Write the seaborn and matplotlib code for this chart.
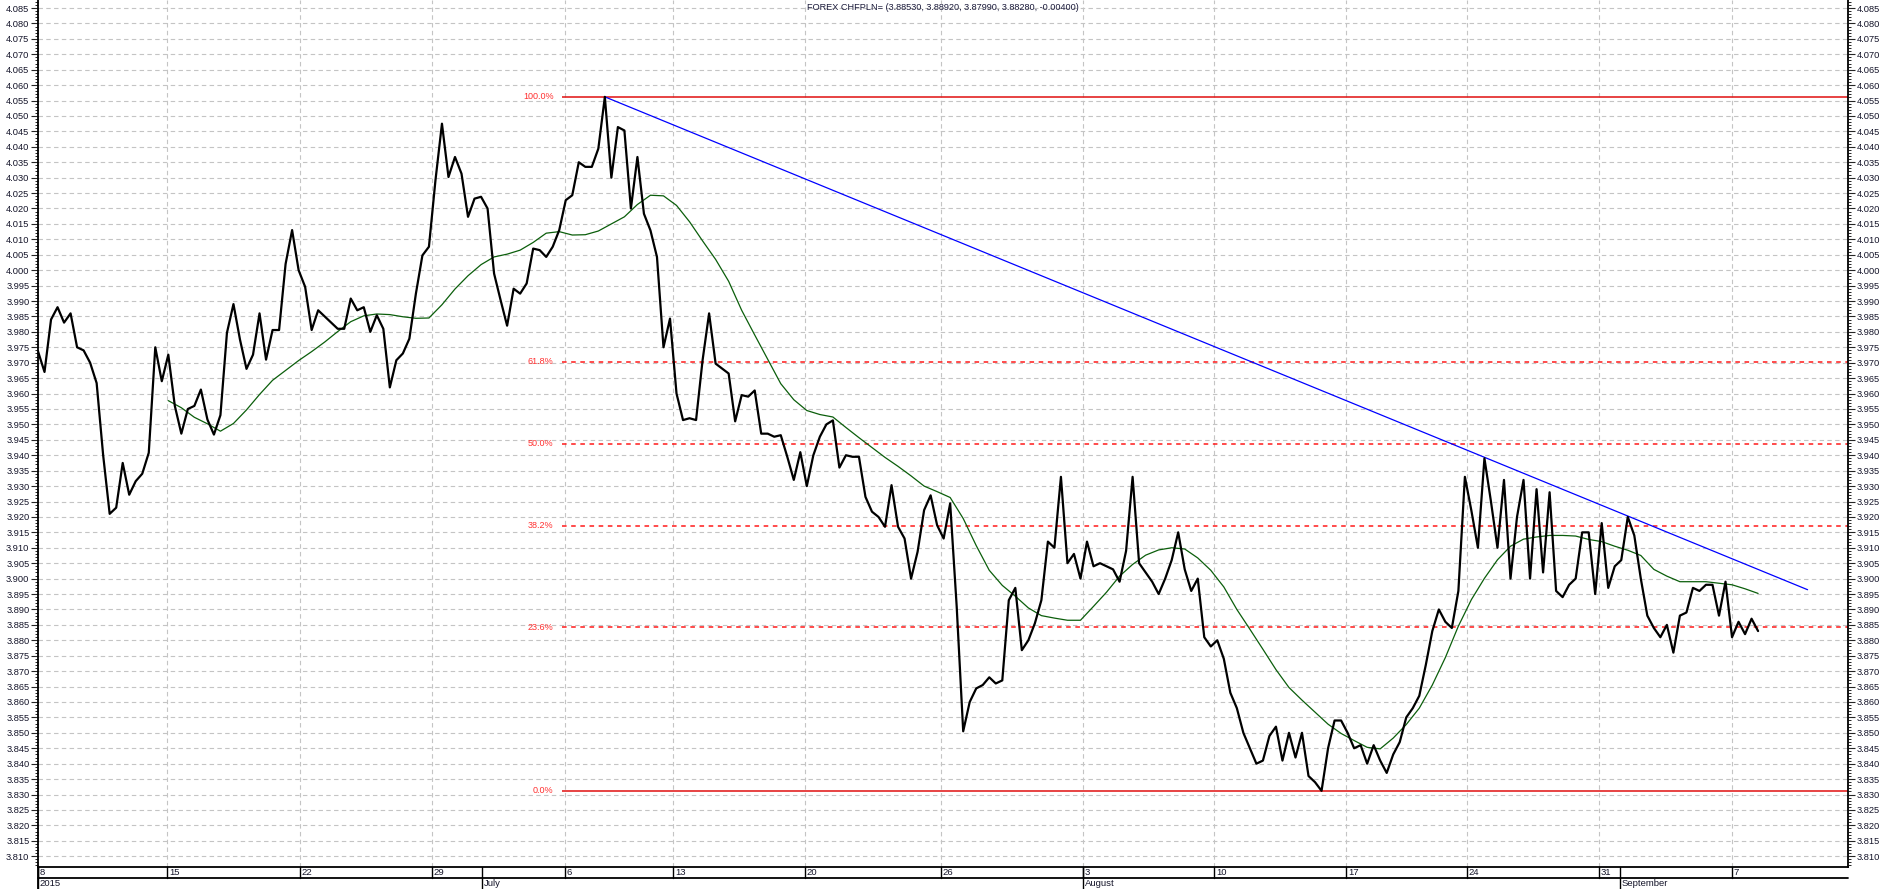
import numpy as np
import matplotlib
matplotlib.use("Agg")
import matplotlib.pyplot as plt
import matplotlib.transforms as mtransforms
from matplotlib.ticker import MultipleLocator, FormatStrFormatter
import seaborn as sns

# price, one sample every quarter session
STEP = 0.25
price = [
    3.9737, 3.967, 3.984, 3.988, 3.983, 3.986, 3.975, 3.974, 3.970, 3.9634,
    3.940, 3.921, 3.923, 3.9375, 3.9272, 3.9316, 3.934, 3.9408, 3.975, 3.964,
    3.9726, 3.956, 3.947, 3.955, 3.956, 3.9613, 3.9516, 3.9467, 3.953, 3.9797,
    3.989, 3.9775, 3.968, 3.9726, 3.986, 3.971, 3.9806, 3.9806, 4.002, 4.013,
    4.000, 3.9946, 3.9806, 3.987, 3.985, 3.983, 3.981, 3.981, 3.9908, 3.987,
    3.988, 3.980, 3.9854, 3.981, 3.962, 3.9708, 3.973, 3.9778, 3.9924, 4.0048,
    4.0076, 4.0291, 4.0475, 4.0302, 4.0367, 4.0313, 4.0173, 4.0232, 4.0238, 4.020,
    3.9989, 3.9903, 3.982, 3.994, 3.9924, 3.9957, 4.007, 4.0065, 4.0043, 4.0076,
    4.013, 4.0227, 4.0243, 4.035, 4.0335, 4.0335, 4.0394, 4.0562, 4.030, 4.0464,
    4.0453, 4.020, 4.0367, 4.0183, 4.0129, 4.0043, 3.975, 3.9843, 3.960, 3.9514,
    3.952, 3.9514, 3.9708, 3.986, 3.9697, 3.9681, 3.9665, 3.951, 3.9595, 3.959,
    3.961, 3.947, 3.947, 3.946, 3.9465, 3.9395, 3.932, 3.941, 3.930, 3.940,
    3.946, 3.950, 3.9513, 3.936, 3.940, 3.9395, 3.9395, 3.9265, 3.9217, 3.920,
    3.9168, 3.9303, 3.9168, 3.913, 3.900, 3.9087, 3.9222, 3.927, 3.9173, 3.913,
    3.9244, 3.891, 3.8505, 3.860, 3.8644, 3.8655, 3.868, 3.866, 3.867, 3.893,
    3.897, 3.8768, 3.880, 3.8855, 3.893, 3.912, 3.910, 3.933, 3.905, 3.908,
    3.900, 3.912, 3.904, 3.905, 3.904, 3.903, 3.899, 3.909, 3.933, 3.905,
    3.902, 3.899, 3.895, 3.900, 3.906, 3.915, 3.903, 3.896, 3.900, 3.881,
    3.878, 3.880, 3.874, 3.863, 3.858, 3.850, 3.845, 3.840, 3.841, 3.849,
    3.852, 3.841, 3.850, 3.842, 3.850, 3.836, 3.834, 3.8312, 3.845, 3.854,
    3.854, 3.850, 3.845, 3.846, 3.840, 3.846, 3.841, 3.837, 3.843, 3.847,
    3.855, 3.858, 3.862, 3.872, 3.883, 3.890, 3.886, 3.884, 3.896, 3.933,
    3.922, 3.910, 3.939, 3.925, 3.910, 3.932, 3.900, 3.920, 3.932, 3.900,
    3.929, 3.902, 3.928, 3.896, 3.894, 3.898, 3.900, 3.915, 3.915, 3.895,
    3.918, 3.897, 3.904, 3.906, 3.920, 3.914, 3.900, 3.888, 3.884, 3.881,
    3.885, 3.876, 3.888, 3.889, 3.897, 3.896, 3.898, 3.898, 3.888, 3.899,
    3.881, 3.886, 3.882, 3.887, 3.883,
]

# moving average (green), one sample every half session
MA_START = 5.0
MA_STEP = 0.5
ma = [
    3.9577, 3.9554, 3.9523, 3.9502, 3.9478, 3.9503, 3.9547, 3.9597, 3.9643, 3.9675,
    3.9707, 3.9736, 3.9767, 3.9801, 3.9833, 3.9852, 3.9858, 3.9856, 3.9849, 3.9844,
    3.9845, 3.9888, 3.9939, 3.9982, 4.0018, 4.0043, 4.0052, 4.0065, 4.009, 4.012,
    4.0125, 4.0114, 4.0115, 4.0127, 4.015, 4.0173, 4.0213, 4.0243, 4.0241, 4.021,
    4.0157, 4.0095, 4.0035, 3.9964, 3.987, 3.979, 3.9711, 3.9632, 3.958, 3.9545,
    3.9532, 3.9524, 3.949, 3.9457, 3.9425, 3.9393, 3.9364, 3.9333, 3.930, 3.9282,
    3.9263, 3.9195, 3.9107, 3.9027, 3.8978, 3.8943, 3.8905, 3.888, 3.8872, 3.8865,
    3.8865, 3.891, 3.8956, 3.9008, 3.9046, 3.9076, 3.9093, 3.910, 3.9096, 3.9067,
    3.9027, 3.8973, 3.890, 3.8836, 3.8771, 3.8705, 3.8647, 3.8606, 3.8567, 3.8528,
    3.8498, 3.8475, 3.8453, 3.8448, 3.8483, 3.8527, 3.858, 3.8655, 3.8744, 3.8846,
    3.8932, 3.9001, 3.9061, 3.9105, 3.9128, 3.9135, 3.914, 3.914, 3.9138, 3.9127,
    3.912, 3.9105, 3.9092, 3.9075, 3.903, 3.9008, 3.899, 3.899, 3.899, 3.8985,
    3.898, 3.8967, 3.8952,
]

# trend line end point (starts at the price high)
trend_end_t = 67.9
trend_end_v = 3.8964

fib_ratios = [1.0, 0.618, 0.5, 0.382, 0.236, 0.0]
fib_labels = ["100.0%", "61.8%", "50.0%", "38.2%", "23.6%", "0.0%"]
fib_start_t = 20.1

week_pos = [0, 4.95, 10.05, 15.12, 20.22, 24.37, 29.43, 34.65, 40.1, 45.13, 50.19, 54.83, 59.9, 65.0]
week_labels = ["8", "15", "22", "29", "6", "13", "20", "26", "3", "10", "17", "24", "31", "7"]
month_pos = [0, 17.04, 40.1, 60.7]
month_labels = ["2015", "July", "August", "September"]

title = "FOREX CHFPLN= (3.88530, 3.88920, 3.87990, 3.88280, -0.00400)"

sns.set_style("white")
plt.rcParams['font.family'] = ['Liberation Sans', 'DejaVu Sans']

W, H = 1883, 889
AX_L, AX_R, AX_B = 38, 1848, 867
fig = plt.figure(figsize=(W / 100, H / 100), dpi=100)
ax = fig.add_axes([AX_L / W, (H - AX_B) / H, (AX_R - AX_L) / W, AX_B / H])

t_price = np.arange(len(price)) * STEP
t_ma = MA_START + np.arange(len(ma)) * MA_STEP
hi, lo = max(price), min(price)
t_hi = t_price[int(np.argmax(price))]

xmax = 69.45
ax.set_xlim(0, xmax)
ax.set_ylim(3.8065, 4.0876)

# grid
ax.set_xticks(week_pos)
ax.set_xticklabels([])
ax.tick_params(axis='x', length=0)
ax.yaxis.set_major_locator(MultipleLocator(0.005))
ax.yaxis.set_minor_locator(MultipleLocator(0.001))
ax.yaxis.set_major_formatter(FormatStrFormatter('%.3f'))
ax.grid(True, which='major', color='#c4c4c4', linewidth=0.8, linestyle=(0, (4, 3)))
ax.set_axisbelow(True)

# fibonacci levels
for r, lab in zip(fib_ratios, fib_labels):
    lvl = lo + r * (hi - lo)
    if r in (0.0, 1.0):
        ax.hlines(lvl, fib_start_t, xmax, color='#e01010', linewidth=1.1, zorder=2)
    else:
        ax.hlines(lvl, fib_start_t, xmax, color='#ff1a1a', linewidth=1.1,
                  linestyles=(0, (3, 3)), zorder=2)
    ax.annotate(lab, xy=(fib_start_t, lvl), xytext=(-6, 0), textcoords='offset points',
                ha='right', va='center', fontsize=6.5, color='#ff3030')

sns.lineplot(x=t_ma, y=ma, ax=ax, color='#0b5e0b', linewidth=0.9, zorder=3)
sns.lineplot(x=[t_hi, trend_end_t], y=[hi, trend_end_v], ax=ax, color='#0000ff',
             linewidth=0.9, zorder=3)
sns.lineplot(x=t_price, y=price, ax=ax, color='black', linewidth=1.6, zorder=5)

ax.set_xlabel("")
ax.set_ylabel("")

# y axes both sides
ax.yaxis.set_ticks_position('both')
ax.tick_params(axis='y', which='major', direction='out', length=5, width=0.8,
               labelsize=6.7, labelcolor='#15152a', pad=1.2,
               left=True, right=True, labelleft=True, labelright=True)
ax.tick_params(axis='y', which='minor', direction='out', length=2.5, width=0.7,
               left=True, right=True)

for side in ('left', 'right', 'bottom'):
    ax.spines[side].set_color('black')
    ax.spines[side].set_linewidth(1.3)
ax.spines['top'].set_visible(False)

# date rows under the plot
trans = mtransforms.blended_transform_factory(ax.transData, ax.transAxes)
row1 = -11 / AX_B
row2 = -22 / AX_B
ax.plot([0, 1], [row1, row1], transform=ax.transAxes, color='black', lw=1.3, clip_on=False)
ax.plot([0, 0], [0, row2], transform=ax.transAxes, color='black', lw=1.3, clip_on=False)
for p, lab in zip(week_pos, week_labels):
    ax.plot([p, p], [0, row1], transform=trans, color='black', lw=1.0, clip_on=False)
    ax.annotate(lab, xy=(p, 0), xycoords=trans, xytext=(1.3, -4.2),
                textcoords='offset points', ha='left', va='center', fontsize=6.8,
                color='#15152a', annotation_clip=False)
for p, lab in zip(month_pos, month_labels):
    ax.plot([p, p], [0, row2], transform=trans, color='black', lw=1.0, clip_on=False)
    ax.annotate(lab, xy=(p, 0), xycoords=trans, xytext=(1.3, -12.2),
                textcoords='offset points', ha='left', va='center', fontsize=6.8,
                color='#15152a', annotation_clip=False)

ax.text(0.5, 1 - 7 / AX_B, title, transform=ax.transAxes, ha='center', va='center',
        fontsize=6.6, color='#1a1a3a')

fig.savefig("out.png", dpi=100)
